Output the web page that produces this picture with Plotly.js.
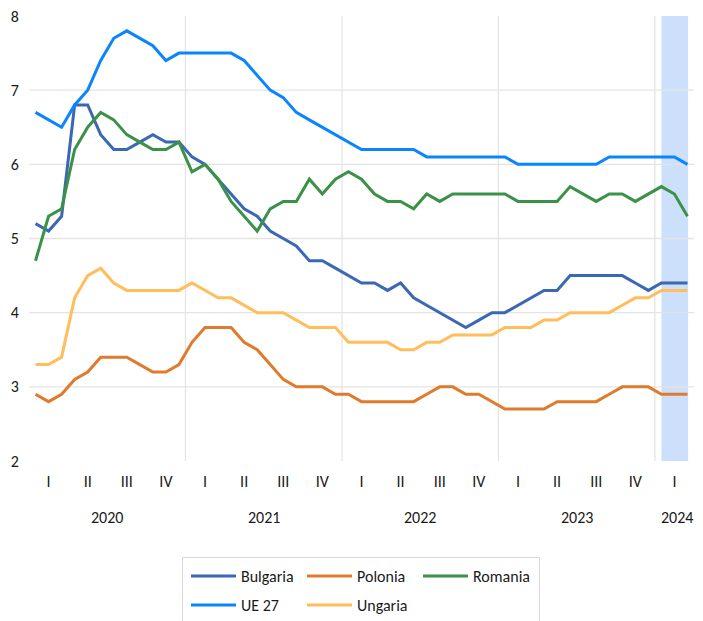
<!DOCTYPE html>
<html>
<head>
<meta charset="utf-8">
<script src="https://cdn.plot.ly/plotly-3.0.1.min.js"></script>
<style>
  html, body { margin: 0; padding: 0; background: #ffffff; }
  #chart { width: 703px; height: 621px; }
</style>
</head>
<body>
<div id="chart"></div>
<script>
// Monthly data, Jan 2020 – Mar 2024
const years = ['2020', '2021', '2022', '2023', '2024'];
const monthsPerYear = [12, 12, 12, 12, 3];
const quarterLabels = ['I', 'II', 'III', 'IV'];

const bulgaria = [5.2,5.1,5.3,6.8,6.8,6.4,6.2,6.2,6.3,6.4,6.3,6.3,
                  6.1,6.0,5.8,5.6,5.4,5.3,5.1,5.0,4.9,4.7,4.7,4.6,
                  4.5,4.4,4.4,4.3,4.4,4.2,4.1,4.0,3.9,3.8,3.9,4.0,
                  4.0,4.1,4.2,4.3,4.3,4.5,4.5,4.5,4.5,4.5,4.4,4.3,
                  4.4,4.4,4.4];
const polonia  = [2.9,2.8,2.9,3.1,3.2,3.4,3.4,3.4,3.3,3.2,3.2,3.3,
                  3.6,3.8,3.8,3.8,3.6,3.5,3.3,3.1,3.0,3.0,3.0,2.9,
                  2.9,2.8,2.8,2.8,2.8,2.8,2.9,3.0,3.0,2.9,2.9,2.8,
                  2.7,2.7,2.7,2.7,2.8,2.8,2.8,2.8,2.9,3.0,3.0,3.0,
                  2.9,2.9,2.9];
const romania  = [4.7,5.3,5.4,6.2,6.5,6.7,6.6,6.4,6.3,6.2,6.2,6.3,
                  5.9,6.0,5.8,5.5,5.3,5.1,5.4,5.5,5.5,5.8,5.6,5.8,
                  5.9,5.8,5.6,5.5,5.5,5.4,5.6,5.5,5.6,5.6,5.6,5.6,
                  5.6,5.5,5.5,5.5,5.5,5.7,5.6,5.5,5.6,5.6,5.5,5.6,
                  5.7,5.6,5.3];
const ue27     = [6.7,6.6,6.5,6.8,7.0,7.4,7.7,7.8,7.7,7.6,7.4,7.5,
                  7.5,7.5,7.5,7.5,7.4,7.2,7.0,6.9,6.7,6.6,6.5,6.4,
                  6.3,6.2,6.2,6.2,6.2,6.2,6.1,6.1,6.1,6.1,6.1,6.1,
                  6.1,6.0,6.0,6.0,6.0,6.0,6.0,6.0,6.1,6.1,6.1,6.1,
                  6.1,6.1,6.0];
const ungaria  = [3.3,3.3,3.4,4.2,4.5,4.6,4.4,4.3,4.3,4.3,4.3,4.3,
                  4.4,4.3,4.2,4.2,4.1,4.0,4.0,4.0,3.9,3.8,3.8,3.8,
                  3.6,3.6,3.6,3.6,3.5,3.5,3.6,3.6,3.7,3.7,3.7,3.7,
                  3.8,3.8,3.8,3.9,3.9,4.0,4.0,4.0,4.0,4.1,4.2,4.2,
                  4.3,4.3,4.3];

// category labels (year-month)
const months = [];
years.forEach((y, yi) => {
  for (let m = 1; m <= monthsPerYear[yi]; m++) months.push(y + '-' + String(m).padStart(2, '0'));
});

// quarter ticks at middle month of each quarter
const tickVals = [], tickText = [];
years.forEach((y, yi) => {
  for (let q = 0; q * 3 < monthsPerYear[yi]; q++) {
    tickVals.push(y + '-' + String(q * 3 + 2).padStart(2, '0'));
    tickText.push(quarterLabels[q]);
  }
});

const FONT = 'Carlito, Lato, sans-serif';
const TXT = '#1a1a1a';

const series = [
  {name: 'Bulgaria', y: bulgaria, color: '#3b68b2', legend: 'legend'},
  {name: 'Polonia',  y: polonia,  color: '#e07a2c', legend: 'legend'},
  {name: 'Romania',  y: romania,  color: '#3b9147', legend: 'legend'},
  {name: 'UE 27',    y: ue27,     color: '#0a84ff', legend: 'legend2'},
  {name: 'Ungaria',  y: ungaria,  color: '#ffbd5c', legend: 'legend2'}
];

const traces = series.map(s => ({
  type: 'scatter', mode: 'lines', x: months, y: s.y, name: s.name,
  legend: s.legend,
  line: {color: s.color, width: 3},
  hoverinfo: 'x+y+name'
}));

// Layout geometry helpers
const L = 29, R = 9, T = 16, B = 160, W = 703, H = 621;
const pw = W - L - R, ph = H - T - B;
const px2x = p => (p - L) / pw;
const py2y = p => (H - B - p) / ph;

const shapes = [];
// highlight band (latest quarter)
const n = months.length;
shapes.push({type: 'rect', layer: 'below', xref: 'x', yref: 'paper',
  x0: n - 3, x1: n - 1 + 0.05, y0: 0, y1: 1,
  fillcolor: '#cde0fb', line: {width: 0}});
// horizontal gridlines
[3, 4, 5, 6, 7].forEach(v => shapes.push({type: 'line', layer: 'below', xref: 'paper', yref: 'y',
  x0: 0, x1: 1, y0: v, y1: v, line: {color: '#e4e4e4', width: 1.3}}));
// vertical year separators
let acc = 0;
monthsPerYear.slice(0, -1).forEach(c => {
  acc += c;
  shapes.push({type: 'line', layer: 'below', xref: 'x', yref: 'paper',
    x0: acc - 0.5, x1: acc - 0.5, y0: 0, y1: 1, line: {color: '#e4e4e4', width: 1.3}});
});
// legend border
shapes.push({type: 'rect', xref: 'paper', yref: 'paper',
  x0: px2x(182.5), x1: px2x(539.5), y0: py2y(557.5), y1: py2y(630),
  line: {color: '#d9d9d9', width: 1}, fillcolor: 'rgba(0,0,0,0)'});

// year labels
const annotations = [];
let start = 0;
years.forEach((y, yi) => {
  const c = monthsPerYear[yi];
  annotations.push({xref: 'x', yref: 'paper', x: start + (c - 1) / 2 + (c < 12 ? 0.2 : 0), y: py2y(517),
    text: y, showarrow: false, xanchor: 'center', yanchor: 'middle',
    font: {family: FONT, size: 16, color: TXT}});
  start += c;
});

const legendCommon = {
  orientation: 'h', xanchor: 'left', yanchor: 'top',
  entrywidth: 56, entrywidthmode: 'pixels', itemwidth: 45,
  bgcolor: 'rgba(0,0,0,0)', borderwidth: 0,
  font: {family: FONT, size: 16, color: TXT}, traceorder: 'normal'
};

const layout = {
  width: W, height: H,
  margin: {l: L, r: R, t: T, b: B, pad: 0, autoexpand: false},
  paper_bgcolor: '#ffffff', plot_bgcolor: '#ffffff',
  font: {family: FONT, color: TXT, size: 16},
  showlegend: true,
  xaxis: {
    type: 'category', categoryorder: 'array', categoryarray: months,
    range: [-0.5, n - 0.5],
    tickmode: 'array', tickvals: tickVals, ticktext: tickText,
    showgrid: false, zeroline: false, showline: false,
    ticks: 'outside', ticklen: 6, tickcolor: 'rgba(0,0,0,0)',
    tickfont: {family: FONT, size: 16, color: TXT}
  },
  yaxis: {
    range: [2, 8], tickvals: [2, 3, 4, 5, 6, 7, 8],
    showgrid: false, zeroline: false, showline: false,
    ticks: 'outside', ticklen: 6, tickcolor: 'rgba(0,0,0,0)',
    tickfont: {family: FONT, size: 16, color: TXT}
  },
  legend: Object.assign({x: px2x(186), y: py2y(559)}, legendCommon),
  legend2: Object.assign({x: px2x(186), y: py2y(588)}, legendCommon),
  shapes: shapes,
  annotations: annotations
};

Plotly.newPlot('chart', traces, layout, {displayModeBar: false, responsive: false});
</script>
</body>
</html>
